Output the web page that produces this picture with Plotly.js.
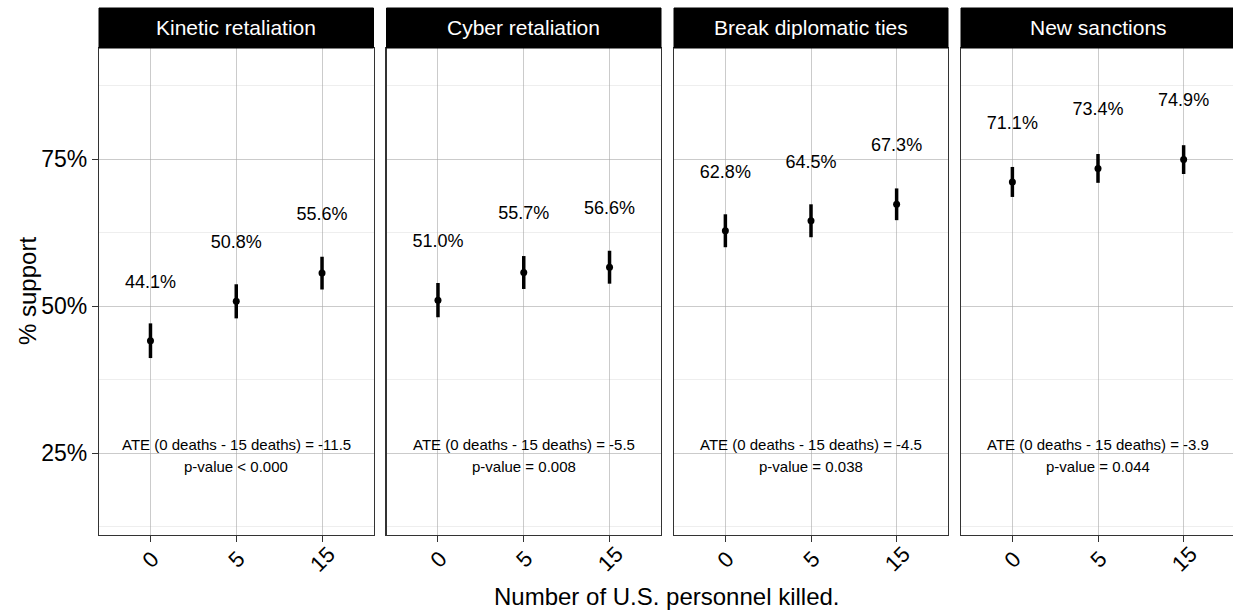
<!DOCTYPE html>
<html>
<head>
<meta charset="utf-8">
<script src="https://cdn.plot.ly/plotly-3.0.1.min.js"></script>
<style>
html, body { margin: 0; padding: 0; overflow: hidden; background: #fff; }
#chart { width: 1236px; height: 612px; }
</style>
</head>
<body>
<div id="chart"></div>
<script>
// ---- data ----
const deaths = ['0', '5', '15'];
const panelTitles = ['Kinetic retaliation', 'Cyber retaliation', 'Break diplomatic ties', 'New sanctions'];
const kineticSupport = [44.1, 50.8, 55.6];
const kineticCI = [2.95, 2.9, 2.8];
const cyberSupport = [51.0, 55.7, 56.6];
const cyberCI = [2.9, 2.8, 2.8];
const diplomaticSupport = [62.8, 64.5, 67.3];
const diplomaticCI = [2.8, 2.8, 2.7];
const sanctionsSupport = [71.1, 73.4, 74.9];
const sanctionsCI = [2.55, 2.45, 2.45];
const ateValues = ['-11.5', '-5.5', '-4.5', '-3.9'];
const pValues = ['< 0.000', '= 0.008', '= 0.038', '= 0.044'];

const supportSeries = [kineticSupport, cyberSupport, diplomaticSupport, sanctionsSupport];
const ciSeries = [kineticCI, cyberCI, diplomaticCI, sanctionsCI];

// ---- layout helpers ----
const W = 1236, H = 612;
const FONT = 'Liberation Sans, Arial, Helvetica, sans-serif';
const panelPx = [[99, 373.5], [386.5, 661], [674, 948], [961, 1235]];
const panelTop = 48, panelBottom = 535, stripTop = 8;
const yDomain = [1 - panelBottom / H, 1 - panelTop / H];
const yRange = [11.06, 93.88];
const labelOffset = 9.8;
const MAJOR = '#a9a9a9', MINOR = '#e3e3e3';

const traces = [];
const layout = {
  width: W, height: H,
  margin: {l: 0, r: 0, t: 0, b: 0, pad: 0},
  paper_bgcolor: '#fff', plot_bgcolor: '#fff',
  showlegend: false,
  font: {family: FONT, color: '#000'},
  shapes: [], annotations: []
};

panelTitles.forEach((title, i) => {
  const n = i === 0 ? '' : String(i + 1);
  const xa = 'x' + n, ya = 'y' + n;
  traces.push({
    type: 'scatter', mode: 'markers', x: deaths, y: supportSeries[i],
    xaxis: xa, yaxis: ya,
    marker: {color: '#000', size: 7},
    error_y: {type: 'data', array: ciSeries[i], visible: true, thickness: 3.5, width: 0, color: '#000'},
    hoverinfo: 'skip', cliponaxis: false
  });
  traces.push({
    type: 'scatter', mode: 'text', x: deaths,
    y: supportSeries[i].map(v => v + labelOffset),
    text: supportSeries[i].map(v => v.toFixed(1) + '%'),
    textposition: 'middle center',
    textfont: {family: FONT, size: 18, color: '#000'},
    xaxis: xa, yaxis: ya, hoverinfo: 'skip', cliponaxis: false
  });
  const d = panelPx[i];
  layout['xaxis' + n] = {
    domain: [d[0] / W, d[1] / W], anchor: ya,
    type: 'category', categoryorder: 'array', categoryarray: deaths,
    range: [-0.6, 2.6],
    showgrid: true, gridcolor: MAJOR, gridwidth: 0.6,
    showline: true, mirror: true, linecolor: '#333', linewidth: 1.2,
    ticks: 'outside', ticklen: 6, tickcolor: '#333', tickwidth: 1,
    showticklabels: false,
    zeroline: false, fixedrange: true
  };
  layout['yaxis' + n] = {
    domain: yDomain, anchor: xa, range: yRange,
    tick0: 0, dtick: 25, ticksuffix: '%',
    showticklabels: i === 0,
    ticks: i === 0 ? 'outside' : '', ticklen: 6, tickcolor: '#333', tickwidth: 1,
    tickfont: {family: FONT, size: 23, color: '#000'},
    showgrid: true, gridcolor: MAJOR, gridwidth: 0.6,
    minor: {dtick: 12.5, tick0: 0, showgrid: true, gridcolor: MINOR, gridwidth: 0.6, ticks: ''},
    showline: true, mirror: true, linecolor: '#333', linewidth: 1.2,
    zeroline: false, fixedrange: true
  };
  // rotated x tick labels (placed at each category position of this axis)
  deaths.forEach((lab, k) => {
    layout.annotations.push({
      xref: xa, yref: 'paper', x: k, y: 1 - 559 / H,
      xanchor: 'center', yanchor: 'middle', textangle: -45, showarrow: false,
      text: lab, font: {family: FONT, size: 22, color: '#000'}
    });
  });
  // strip
  layout.shapes.push({
    type: 'rect', xref: 'paper', yref: 'paper',
    x0: d[0] / W, x1: d[1] / W, y0: 1 - panelTop / H, y1: 1 - stripTop / H,
    fillcolor: '#000', line: {color: '#000', width: 1}
  });
  layout.annotations.push({
    xref: 'paper', yref: 'paper', x: (d[0] + d[1]) / 2 / W, y: 1 - 28 / H,
    xanchor: 'center', yanchor: 'middle', showarrow: false,
    text: title, font: {family: FONT, size: 21, color: '#fff'}
  });
  // ATE text (centred on the middle category)
  layout.annotations.push({
    xref: xa, yref: ya, x: 1, y: 26.53, xanchor: 'center', yanchor: 'middle', showarrow: false,
    text: 'ATE (0 deaths - 15 deaths) = ' + ateValues[i],
    font: {family: FONT, size: 15, color: '#000'}
  });
  layout.annotations.push({
    xref: xa, yref: ya, x: 1, y: 22.79, xanchor: 'center', yanchor: 'middle', showarrow: false,
    text: 'p-value ' + pValues[i],
    font: {family: FONT, size: 15, color: '#000'}
  });
});

// axis titles
layout.annotations.push({
  xref: 'paper', yref: 'paper', x: 27 / W, y: 1 - 291 / H,
  xanchor: 'center', yanchor: 'middle', textangle: -90, showarrow: false,
  text: '% support', font: {family: FONT, size: 24, color: '#000'}
});
layout.annotations.push({
  xref: 'paper', yref: 'paper', x: 667 / W, y: 1 - 596 / H,
  xanchor: 'center', yanchor: 'middle', showarrow: false,
  text: 'Number of U.S. personnel killed.', font: {family: FONT, size: 24, color: '#000'}
});

Plotly.newPlot('chart', traces, layout, {staticPlot: true, displayModeBar: false});
</script>
</body>
</html>
